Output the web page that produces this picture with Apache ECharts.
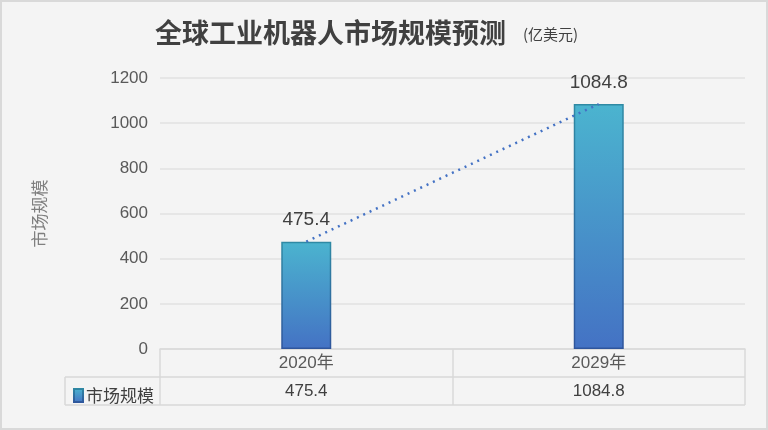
<!DOCTYPE html>
<html>
<head>
<meta charset="utf-8">
<script src="https://cdn.jsdelivr.net/npm/echarts@6/dist/echarts.min.js"></script>
<style>
  html, body { margin: 0; padding: 0; background: #f4f4f4; }
  #main { width: 768px; height: 430px; }
</style>
</head>
<body>
<div id="main"></div>
<script>
// 数据
const years = ['2020年', '2029年']
const marketSize = [475.4, 1084.8]
const seriesName = '市场规模'
const yTicks = { min: 0, max: 1200, interval: 200 }

const cjk = '"Noto Sans CJK SC", "Liberation Sans", sans-serif'
const mixed = '"Liberation Sans", "Noto Sans CJK SC", sans-serif'
const textColor = '#404040'
const lineColor = '#d9d9d9'

const chart = echarts.init(document.getElementById('main'))

// 柱子渐变
const barFill = new echarts.graphic.LinearGradient(0, 0, 0, 1, [
    { offset: 0, color: '#4bb4cf' },
    { offset: 1, color: '#4472c4' }
])
const barBorder = new echarts.graphic.LinearGradient(0, 0, 0, 1, [
    { offset: 0, color: '#2f8aa4' },
    { offset: 1, color: '#2f559c' }
])

chart.setOption({
    backgroundColor: '#f4f4f4',
    animation: false,
    textStyle: { fontFamily: mixed },
    grid: { left: 160, right: 23, top: 78, bottom: 81 },
    legend: {
        data: [seriesName],
        icon: 'rect',
        left: 68,
        top: 382,
        itemWidth: 9,
        itemHeight: 13,
        itemGap: 4,
        textStyle: { fontSize: 17, color: textColor, fontFamily: cjk, padding: [0, 0, 0, -2] }
    },
    xAxis: [
        {
            type: 'category',
            data: years,
            axisLine: { lineStyle: { color: lineColor, width: 1.5 } },
            axisTick: { show: true, interval: 0, length: 56, lineStyle: { color: lineColor, width: 1.5 } },
            axisLabel: { margin: 6, fontSize: 17, color: '#595959', fontFamily: mixed }
        },
        {
            // 数据表中的数值行
            type: 'category',
            data: years,
            position: 'bottom',
            offset: 28,
            axisLine: { show: false },
            axisTick: { show: false },
            axisLabel: {
                margin: 6,
                fontSize: 17,
                color: textColor,
                fontFamily: mixed,
                formatter: (v, i) => String(marketSize[i])
            }
        }
    ],
    yAxis: {
        type: 'value',
        min: yTicks.min,
        max: yTicks.max,
        interval: yTicks.interval,
        name: seriesName,
        nameLocation: 'middle',
        nameGap: 112,
        nameRotate: 90,
        nameTextStyle: { fontSize: 17, color: '#7f7f7f', fontFamily: cjk },
        axisLine: { show: false },
        axisTick: { show: false },
        axisLabel: { margin: 12, fontSize: 17, color: '#595959', formatter: v => String(v) },
        splitLine: { lineStyle: { color: '#e2e2e2', width: 1.5 } }
    },
    series: [
        {
            name: seriesName,
            type: 'bar',
            data: marketSize,
            barWidth: 50,
            itemStyle: { color: barFill, borderColor: barBorder, borderWidth: 1.5 },
            label: {
                show: true,
                position: 'top',
                distance: 12,
                fontSize: 19,
                color: textColor
            },
            z: 2
        },
        {
            // 趋势线
            name: '趋势',
            type: 'line',
            data: marketSize,
            symbol: 'none',
            lineStyle: { color: '#4472c4', width: 2.5, type: [2, 5] },
            z: 3
        }
    ],
    graphic: [
        { type: 'rect', shape: { x: 1, y: 1, width: 766, height: 428 }, style: { fill: 'none', stroke: lineColor, lineWidth: 2 } },
        { type: 'line', shape: { x1: 65, y1: 377, x2: 745, y2: 377 }, style: { stroke: lineColor, lineWidth: 1.5 } },
        { type: 'line', shape: { x1: 65, y1: 405, x2: 745, y2: 405 }, style: { stroke: lineColor, lineWidth: 1.5 } },
        { type: 'line', shape: { x1: 65, y1: 377, x2: 65, y2: 405 }, style: { stroke: lineColor, lineWidth: 1.5 } },
        {
            type: 'text',
            left: 155,
            top: 19,
            style: { text: '全球工业机器人市场规模预测', fontSize: 27, fontWeight: 'bold', fill: textColor, fontFamily: cjk }
        },
        {
            type: 'text',
            left: 523,
            top: 27,
            style: { text: '(亿美元)', fontSize: 15, fill: textColor, fontFamily: cjk }
        }
    ]
})
</script>
</body>
</html>
